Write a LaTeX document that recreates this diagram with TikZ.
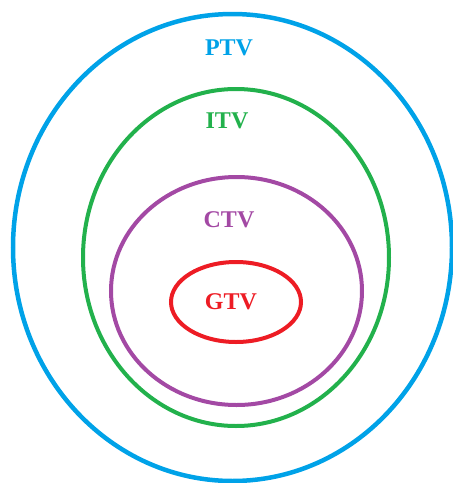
\documentclass[tikz,border=0pt]{standalone}
\usepackage{fontspec}
\setmainfont{Liberation Serif}
\usetikzlibrary{positioning}

\definecolor{ptvblue}{HTML}{00A2E8}
\definecolor{itvgreen}{HTML}{22B14C}
\definecolor{ctvpurple}{HTML}{A349A4}
\definecolor{gtvred}{HTML}{ED1C24}

\begin{document}
\begin{tikzpicture}[
    x=1pt, y=-1pt,
    volume/.style={line width=4pt},
    tag/.style={font=\fontsize{24}{24}\selectfont\bfseries, inner sep=0pt}
]

\useasboundingbox (0,0) rectangle (453,483);

\draw [volume, ptvblue, line width=4.5pt] (232.5,247.5) ellipse [x radius=219.5, y radius=233.5];
\draw [volume, itvgreen] (236,257.5) ellipse [x radius=153, y radius=168.5];
\draw [volume, ctvpurple] (236.5,291) ellipse [x radius=125.5, y radius=114];
\draw [volume, gtvred] (236,302) ellipse [x radius=65, y radius=40];

\node (ptv) [tag, text=ptvblue] at (229,48) {PTV};
\node (itv) [tag, text=itvgreen] at (227,121) {ITV};
\node (ctv) [tag, text=ctvpurple] at (229,220) {CTV};
\node (gtv) [tag, text=gtvred] at (231,302) {GTV};

\end{tikzpicture}
\end{document}
